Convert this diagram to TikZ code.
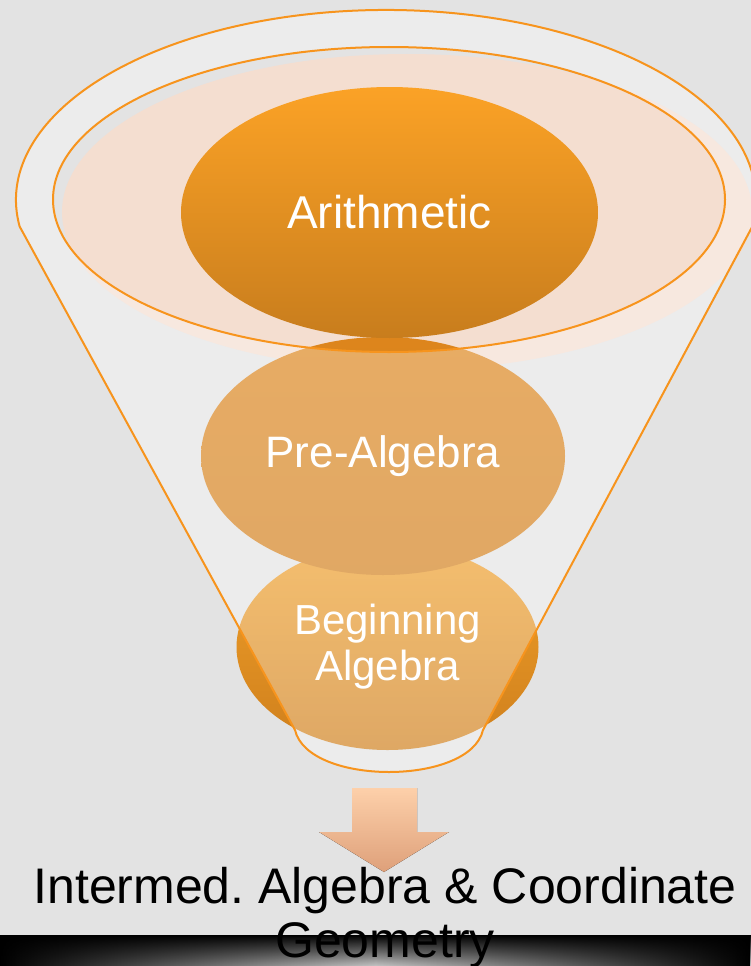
\documentclass[tikz,border=0pt]{standalone}
\usepackage{fontspec}
\setmainfont{Liberation Sans}
\usetikzlibrary{shapes.geometric,fadings}
\definecolor{bg}{HTML}{E3E3E3}
\definecolor{orline}{HTML}{F7941D}
\definecolor{ortop}{HTML}{FBA226}
\definecolor{orbot}{HTML}{C87D1D}
\definecolor{begtop}{HTML}{F0A02A}
\definecolor{begbot}{HTML}{CF7F1C}
\definecolor{pretop}{HTML}{DD851C}
\definecolor{prebot}{HTML}{D27F1C}
\definecolor{peach}{HTML}{FCDCC8}
\definecolor{arrtop}{HTML}{FDD0AA}
\definecolor{arrbot}{HTML}{DEA07A}
\definecolor{bargray}{HTML}{C4C4C4}
\tikzfading[name=sidefade, left color=transparent!0, right color=transparent!0, middle color=transparent!100]
\tikzset{
  stage/.style={ellipse, inner sep=0pt, text=white, align=center},
  rim/.style={draw=orline, line width=2pt},
}
\frenchspacing
\begin{document}
\begin{tikzpicture}[x=1pt,y=-1pt]
\useasboundingbox (0,0) rectangle (751,966);
\fill[bg] (0,0) rectangle (751,966);
% peach translucent ellipse
\fill[peach, opacity=0.7] (407,212) ellipse [x radius=345, y radius=158];
% lower stages
\node[stage, minimum width=302pt, minimum height=206pt, top color=begtop, bottom color=begbot] (beg) at (387.5,647) {};
\node[stage, minimum width=364pt, minimum height=238pt, top color=pretop, bottom color=prebot] (pre) at (383,456) {};
% funnel translucent body with hole
\fill[white, opacity=0.32, even odd rule]
  (19.6,226.4) arc[start angle=172, end angle=368, x radius=370, y radius=190]
  -- (483,730) .. controls (470,786) and (308,786) .. (295,730) -- cycle
  (389,199.5) ellipse [x radius=336, y radius=152.5];
% texts of lower stages on top of overlay
\node[text=white, font=\fontsize{42}{46}\selectfont, align=center] (begt) at (beg) {Beginning\\Algebra};
\node[text=white, font=\fontsize{44}{48}\selectfont] (pret) at (pre) {Pre-Algebra};
% funnel outlines
\draw[rim, line join=round]
  (19.6,226.4) arc[start angle=172, end angle=368, x radius=370, y radius=190]
  -- (483,730) .. controls (470,786) and (308,786) .. (295,730) -- cycle;
\draw[rim] (389,199.5) ellipse [x radius=336, y radius=152.5];
% top stage
\node[stage, minimum width=417pt, minimum height=251pt, top color=ortop, bottom color=orbot,
      font=\fontsize{46}{50}\selectfont] (ari) at (389.5,212.5) {Arithmetic};
% arrow
\fill[top color=arrtop, bottom color=arrbot]
  (352,788) -- (417,788) -- (417,832) -- (449,832) -- (384,872) -- (319,832) -- (352,832) -- cycle;
% bottom bar
\fill[top color=black, bottom color=bargray] (0,935) rectangle (751,966);
\fill[black, path fading=sidefade] (0,935) rectangle (751,966);
% bottom text
\node[anchor=base, font=\fontsize{50}{55}\selectfont, inner sep=0pt] (res1) at (385,903) {Intermed. Algebra \& Coordinate};
\node[anchor=base, font=\fontsize{50}{55}\selectfont, inner sep=0pt] (res2) at (385,957) {Geometry};
\end{tikzpicture}
\end{document}
